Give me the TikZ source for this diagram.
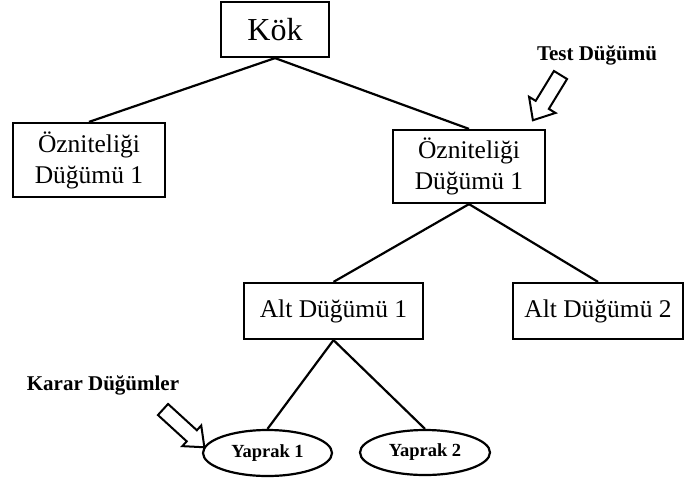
\documentclass[tikz,border=0pt]{standalone}
\usepackage{fontspec}
\setmainfont{Liberation Serif}
\usetikzlibrary{shapes.geometric}

\tikzset{
  treebox/.style={draw=black, line width=2.2pt, fill=white, align=center,
    inner sep=0pt, font=\fontsize{25.5}{31}\selectfont},
  leaf/.style={draw=black, ellipse, line width=2.2pt, fill=white, inner sep=0pt,
    font=\bfseries\fontsize{18.5}{22}\selectfont},
  tag/.style={font=\bfseries\fontsize{21}{25}\selectfont, inner sep=0pt},
  edge/.style={line width=2.2pt, black},
  blockarrow/.style={draw=black, line width=2pt, fill=white, line join=miter}
}

% outlined block arrow: #1 length, #2 shaft half width, #3 head half width, #4 head length
\newcommand{\blockarrowpath}[4]{%
  (0,#2) -- (#1-#4,#2) -- (#1-#4,#3) -- (#1,0) -- (#1-#4,-#3) -- (#1-#4,-#2) -- (0,-#2) -- cycle}

\begin{document}
\begin{tikzpicture}[x=1pt,y=1pt]
  \useasboundingbox (0,0) rectangle (685,-477);

  % tree nodes
  \node[treebox, minimum width=108pt, minimum height=55pt,
        font=\fontsize{32}{36}\selectfont] (root) at (275,-29.5) {Kök};
  \node[treebox, minimum width=152pt, minimum height=74pt] (attrL) at (89,-160) {Özniteliği\\Düğümü 1};
  \node[treebox, minimum width=152pt, minimum height=73pt] (attrR) at (469,-166.5) {Özniteliği\\Düğümü 1};
  \node[treebox, minimum width=179pt, minimum height=56pt] (sub1) at (333.5,-311) {Alt Düğümü 1};
  \node[treebox, minimum width=170pt, minimum height=56pt] (sub2) at (598,-311) {Alt Düğümü 2};
  \node[leaf, minimum width=129pt, minimum height=46pt] (leaf1) at (267.5,-453) {Yaprak 1};
  \node[leaf, minimum width=130pt, minimum height=45pt] (leaf2) at (425,-452.5) {Yaprak 2};

  % branches
  \draw[edge] (root.south) -- (attrL.north);
  \draw[edge] (root.south) -- (attrR.north);
  \draw[edge] (attrR.south) -- (sub1.north);
  \draw[edge] (attrR.south) -- (sub2.north);
  \draw[edge] (sub1.south) -- (leaf1.north);
  \draw[edge] (sub1.south) -- (leaf2.north);

  % callouts
  \node[tag] (testlbl) at (597,-55) {Test Düğümü};
  \node[tag] (karlbl) at (103,-385) {Karar Düğümler};

  \begin{scope}[shift={(560.5,-75)}, rotate=238.6]
    \draw[blockarrow] \blockarrowpath{53}{7.7}{15.5}{18};
  \end{scope}
  \begin{scope}[shift={(163,-409.5)}, rotate=-42.4]
    \draw[blockarrow] \blockarrowpath{56}{7.5}{14}{17};
  \end{scope}
\end{tikzpicture}
\end{document}
